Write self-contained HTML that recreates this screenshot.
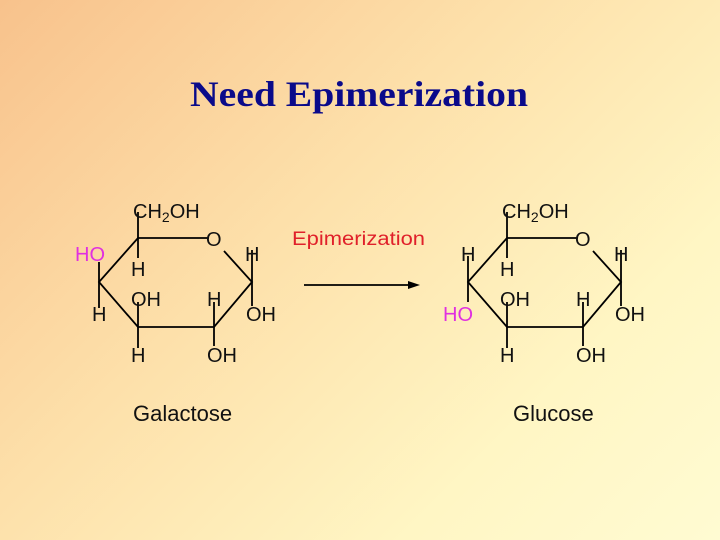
<!DOCTYPE html>
<html><head><style>
html,body{margin:0;padding:0}
body{width:720px;height:540px;overflow:hidden;background:linear-gradient(135deg,#f8c28c 0%,#fde0aa 40%,#fff6c4 75%,#fffbd2 100%)}
svg{display:block}
text{font-family:"Liberation Sans",sans-serif;font-size:20px;fill:#111}
</style></head><body>
<svg width="720" height="540" viewBox="0 0 720 540">
<text x="359" y="106" text-anchor="middle" style="font-family:'Liberation Serif',serif;font-weight:bold;font-size:36px;fill:#0a0a8a" textLength="338" lengthAdjust="spacingAndGlyphs">Need Epimerization</text>
<text x="292" y="245" style="fill:#e0202a;font-size:19px" textLength="133" lengthAdjust="spacingAndGlyphs">Epimerization</text>
<line x1="304" y1="285" x2="410" y2="285" stroke="#000" stroke-width="1.8"/>
<polygon points="420,285 408,281 408,289" fill="#000"/>
<g stroke="#000" stroke-width="1.8" fill="none">
<polyline points="209,238 138,238 99,282 138,327 214,327 252,282 224,251"/>
<line x1="138" y1="212" x2="138" y2="258"/>
<line x1="99" y1="262" x2="99" y2="308"/>
<line x1="252" y1="250" x2="252" y2="306"/>
<line x1="138" y1="302" x2="138" y2="348"/>
<line x1="214" y1="302" x2="214" y2="346"/>
</g>
<text x="133" y="218">CH<tspan font-size="14" dy="4">2</tspan><tspan dy="-4">OH</tspan></text>
<text x="206" y="246">O</text>
<text x="75" y="261" style="fill:#e030e0">HO</text>
<text x="245" y="261">H</text>
<text x="131" y="276">H</text>
<text x="92" y="321">H</text>
<text x="131" y="306">OH</text>
<text x="207" y="306">H</text>
<text x="246" y="321">OH</text>
<text x="131" y="362">H</text>
<text x="207" y="362">OH</text>
<text x="133" y="421" style="font-size:22px">Galactose</text>
<g stroke="#000" stroke-width="1.8" fill="none">
<polyline points="578,238 507,238 468,282 507,327 583,327 621,282 593,251"/>
<line x1="507" y1="212" x2="507" y2="258"/>
<line x1="468" y1="256" x2="468" y2="302"/>
<line x1="621" y1="250" x2="621" y2="306"/>
<line x1="507" y1="302" x2="507" y2="348"/>
<line x1="583" y1="302" x2="583" y2="346"/>
</g>
<text x="502" y="218">CH<tspan font-size="14" dy="4">2</tspan><tspan dy="-4">OH</tspan></text>
<text x="575" y="246">O</text>
<text x="461" y="261">H</text>
<text x="614" y="261">H</text>
<text x="500" y="276">H</text>
<text x="443" y="321" style="fill:#e030e0">HO</text>
<text x="500" y="306">OH</text>
<text x="576" y="306">H</text>
<text x="615" y="321">OH</text>
<text x="500" y="362">H</text>
<text x="576" y="362">OH</text>
<text x="513" y="421" style="font-size:22px">Glucose</text>
</svg>
</body></html>
